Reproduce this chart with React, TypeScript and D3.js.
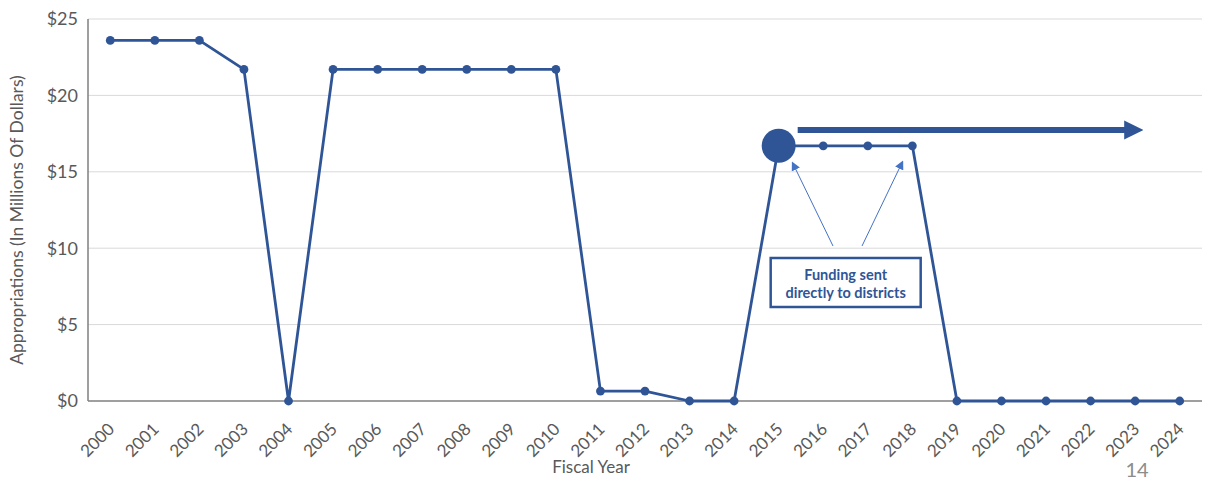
import React from "react";
import * as d3 from "d3";

const years = ["2000","2001","2002","2003","2004","2005","2006","2007","2008","2009","2010","2011","2012","2013","2014","2015","2016","2017","2018","2019","2020","2021","2022","2023","2024"];
const values = [23.6,23.6,23.6,21.7,0,21.7,21.7,21.7,21.7,21.7,21.7,0.65,0.65,0,0,16.7,16.7,16.7,16.7,0,0,0,0,0,0];
const yTicks = [0,5,10,15,20,25];
const highlightYear = "2015";
const directYears = ["2015","2018"];
const annotation = ["Funding sent", "directly to districts"];

const W = 1209, H = 480;
const left = 88, right = 1202, top = 19, bottom = 401;
const FONT = "Lato, 'Open Sans', sans-serif";
const LINE = "#2F5597";

export default function App() {
  const x = d3.scaleBand<string>().domain(years).range([left, right]);
  const cx = (yr: string) => (x(yr) as number) + x.bandwidth() / 2;
  const y = d3.scaleLinear().domain([0, 25]).range([bottom, top]);
  const line = d3.line<number>().x((_, i) => cx(years[i])).y(d => y(d));

  const hx = cx(highlightYear);
  const hy = y(values[years.indexOf(highlightYear)]);
  const boxX = hx - 8, boxY = 258, boxW = 150, boxH = 49;
  const a1 = cx(directYears[0]), a2 = cx(directYears[1]);

  return (
    <svg width={W} height={H} style={{ position: "absolute", left: 0, top: 0, background: "#fff" }} fontFamily={FONT}>
      <defs>
        <marker id="bigHead" viewBox="0 0 10 10" refX="2" refY="5" markerWidth="3.2" markerHeight="3.2" orient="auto">
          <path d="M0,0 L10,5 L0,10 z" fill={LINE} />
        </marker>
        <marker id="thinHead" viewBox="0 0 10 10" refX="8" refY="5" markerWidth="9" markerHeight="9" markerUnits="userSpaceOnUse" orient="auto">
          <path d="M0,0 L10,5 L0,10 z" fill="#4472C4" />
        </marker>
      </defs>
      {yTicks.map(t => (
        <g key={t}>
          {t > 0 && <line x1={left} x2={right} y1={y(t)} y2={y(t)} stroke="#d9d9d9" strokeWidth={1} />}
          <text x={78} y={y(t)} dy="0.35em" textAnchor="end" fontSize={18} fill="#595959">${t}</text>
        </g>
      ))}
      <line x1={left} x2={left} y1={top} y2={bottom} stroke="#7f7f7f" strokeWidth={1.5} />
      <line x1={left} x2={right} y1={bottom} y2={bottom} stroke="#7f7f7f" strokeWidth={1.5} />
      {years.map(yr => (
        <text key={yr} transform={`translate(${cx(yr) + 1},${bottom + 25}) rotate(-45)`} textAnchor="end" dy="0.35em" fontSize={17} fill="#595959">{yr}</text>
      ))}
      <text transform={`translate(23,${(top + bottom) / 2 + 10}) rotate(-90)`} textAnchor="middle" fontSize={17.5} fill="#595959">Appropriations (In Millions Of Dollars)</text>
      <text x={591} y={473} textAnchor="middle" fontSize={17} fill="#595959">Fiscal Year</text>
      <text x={1137} y={477} textAnchor="middle" fontSize={20} fill="#8c8c8c">14</text>

      <path d={line(values) || ""} fill="none" stroke={LINE} strokeWidth={2.8} strokeLinejoin="round" />
      {values.map((v, i) => (
        <circle key={i} cx={cx(years[i])} cy={y(v)} r={4.4} fill={LINE} />
      ))}
      <circle cx={hx} cy={hy} r={17} fill={LINE} />
      <line x1={hx + 19} x2={1128} y1={130} y2={130} stroke={LINE} strokeWidth={6} markerEnd="url(#bigHead)" />

      <line x1={833} y1={246} x2={a1 + 14} y2={163} stroke="#4472C4" strokeWidth={1} markerEnd="url(#thinHead)" />
      <line x1={862} y1={246} x2={a2 - 10} y2={162} stroke="#4472C4" strokeWidth={1} markerEnd="url(#thinHead)" />
      <rect x={boxX} y={boxY} width={boxW} height={boxH} fill="#fff" stroke={LINE} strokeWidth={2.5} />
      {annotation.map((t, i) => (
        <text key={t} x={boxX + boxW / 2} y={boxY + 22 + i * 18} textAnchor="middle" fontSize={14.5} fontWeight="bold" fill={LINE}>{t}</text>
      ))}
    </svg>
  );
}
